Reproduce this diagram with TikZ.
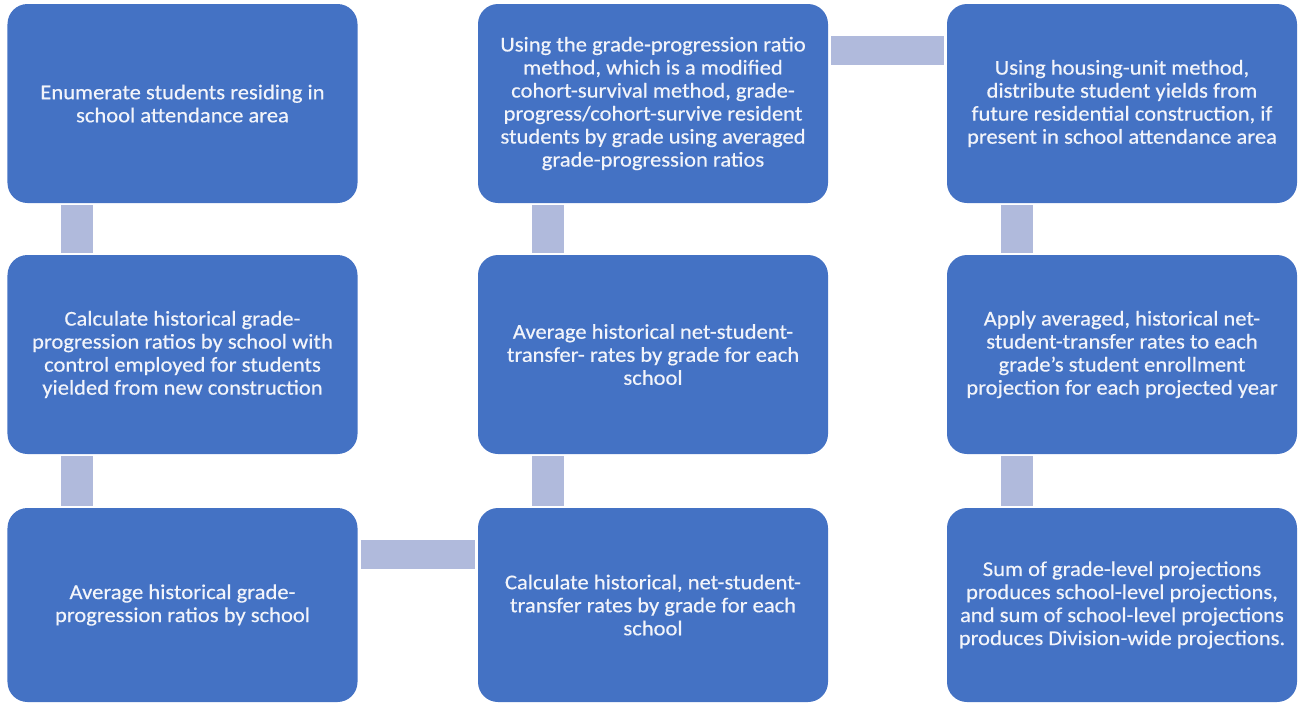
\documentclass[tikz,border=0pt]{standalone}
\usepackage{fontspec}
\setmainfont{Carlito}[FakeStretch=1.07,FakeBold=0.4]
\usetikzlibrary{calc}
\definecolor{boxblue}{RGB}{68,114,196}
\definecolor{linkgray}{RGB}{176,186,220}
\definecolor{boxtext}{RGB}{242,244,250}

\begin{document}
\begin{tikzpicture}[
    task/.style={fill=boxblue,rounded corners=0.4cm,minimum width=7cm,
      minimum height=3.98cm,inner sep=0pt,text=boxtext,align=center,
      font=\fontsize{12}{13.1}\selectfont},
    vlink/.style={draw=linkgray,line width=0.64cm,shorten >=0.04cm,shorten <=0.04cm},
    hlink/.style={draw=linkgray,line width=0.58cm,shorten >=0.06cm,shorten <=0.06cm}]
    \useasboundingbox (0,0) rectangle (25.98,-14.08);
    % --- first column
    \node[task] (enum) at (3.65,-2.07) {Enumerate students residing in\\school attendance area};
    \node[task] (calcgpr) at (3.65,-7.09) {Calculate historical grade-\\progression ratios by school with\\control employed for students\\yielded from new construction};
    \node[task,minimum height=3.88cm] (avggpr) at (3.65,-12.1) {Average historical grade-\\progression ratios by school};
    % --- second column
    \node[task] (usegpr) at (13.06,-2.07) {Using the grade-progression ratio\\method, which is a modified\\cohort-survival method, grade-\\progress/cohort-survive resident\\students by grade using averaged\\grade-progression ratios};
    \node[task] (avgnst) at (13.06,-7.09) {Average historical net-student-\\transfer- rates by grade for each\\school};
    \node[task,minimum height=3.88cm] (calcnst) at (13.06,-12.1) {Calculate historical, net-student-\\transfer rates by grade for each\\school};
    % --- third column
    \node[task] (housing) at (22.44,-2.07) {Using housing-unit method,\\distribute student yields from\\future residential construction, if\\present in school attendance area};
    \node[task] (applynst) at (22.44,-7.09) {Apply averaged, historical net-\\student-transfer rates to each\\grade's student enrollment\\projection for each projected year};
    \node[task,minimum height=3.88cm] (sum) at (22.44,-12.1) {Sum of grade-level projections\\produces school-level projections,\\and sum of school-level projections\\produces Division-wide projections.};
    % --- links
    \draw[vlink] ([xshift=1.4cm]enum.south west) -- ([xshift=1.4cm]calcgpr.north west);
    \draw[vlink] ([xshift=1.4cm]calcgpr.south west) -- ([xshift=1.4cm]avggpr.north west);
    \draw[hlink] ([yshift=-0.94cm]avggpr.north east) -- ([yshift=-0.94cm]calcnst.north west);
    \draw[vlink] ([xshift=1.4cm]calcnst.north west) -- ([xshift=1.4cm]avgnst.south west);
    \draw[vlink] ([xshift=1.4cm]avgnst.north west) -- ([xshift=1.4cm]usegpr.south west);
    \draw[hlink] ([yshift=-0.94cm]usegpr.north east) -- ([yshift=-0.94cm]housing.north west);
    \draw[vlink] ([xshift=1.4cm]housing.south west) -- ([xshift=1.4cm]applynst.north west);
    \draw[vlink] ([xshift=1.4cm]applynst.south west) -- ([xshift=1.4cm]sum.north west);
  \end{tikzpicture}
\end{document}
